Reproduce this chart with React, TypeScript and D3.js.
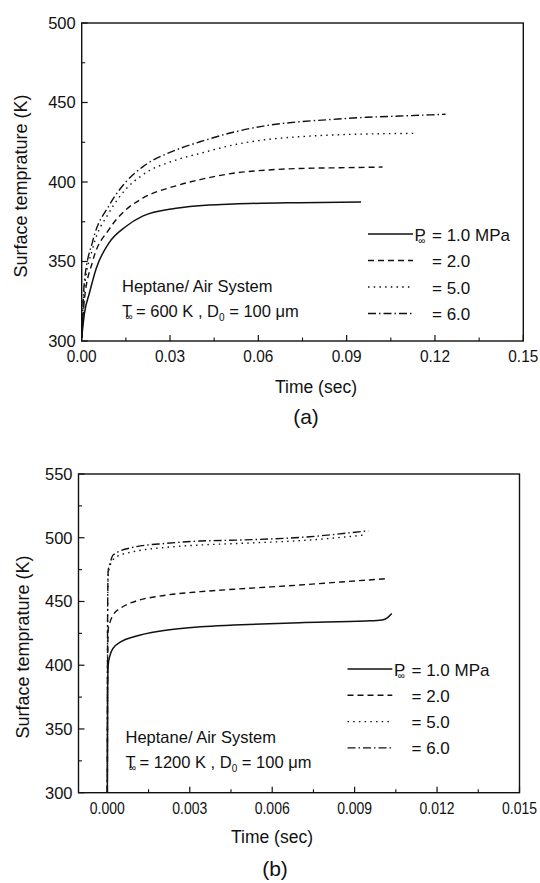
import React from "react";
import * as d3 from "d3";

// ---------- data: panel (a), T∞ = 600 K ----------
const a_t_p1 = [0, 0.0009, 0.0026, 0.0049, 0.0094, 0.015, 0.0207, 0.032, 0.0433, 0.0515, 0.0741, 0.0949];
const a_T_p1 = [302, 317, 330, 345.5, 362, 372, 378.5, 383.5, 385.6, 386.2, 387.0, 387.4];
const a_t_p2 = [0, 0.0009, 0.0037, 0.0094, 0.015, 0.0207, 0.032, 0.0402, 0.0515, 0.0628, 0.0741, 0.0855, 0.1022];
const a_T_p2 = [302, 325.8, 350, 370.5, 382.5, 389.8, 397.6, 401.5, 405.5, 407.5, 408.5, 408.9, 409.4];
const a_t_p5 = [0, 0.0009, 0.0037, 0.0094, 0.015, 0.0207, 0.032, 0.0402, 0.0515, 0.0628, 0.0741, 0.0855, 0.0968, 0.114];
const a_T_p5 = [302, 333, 358, 381, 395.5, 404.5, 413.8, 418, 423.3, 426.7, 428.5, 429.6, 430.2, 430.6];
const a_t_p6 = [0, 0.0009, 0.0037, 0.0094, 0.015, 0.0207, 0.032, 0.0402, 0.0515, 0.0628, 0.0741, 0.0855, 0.0968, 0.1081, 0.1236];
const a_T_p6 = [302, 337, 362.5, 385.5, 400, 409.5, 420.1, 425.3, 431.3, 435.5, 437.9, 439.4, 440.7, 441.5, 442.6];

// ---------- data: panel (b), T∞ = 1200 K ----------
const b_t_p1 = [0, 0.00001, 0.00003, 0.0001, 0.0002, 0.0005, 0.001, 0.002, 0.0034, 0.0046, 0.007, 0.0094, 0.01, 0.0102, 0.01035];
const b_T_p1 = [300, 380, 400, 408, 413, 418.5, 422.5, 427, 430.2, 431.5, 433.4, 434.7, 435.5, 437.3, 440.5];
const b_t_p2 = [0, 0.00001, 0.00003, 0.0001, 0.0002, 0.0005, 0.001, 0.002, 0.0034, 0.0046, 0.007, 0.0085, 0.0101];
const b_T_p2 = [300, 400, 428, 434, 439, 445, 450, 454.5, 457.7, 459.6, 462.9, 465.3, 467.8];
const b_t_p5 = [0, 0.00001, 0.00003, 0.0001, 0.00034, 0.00094, 0.00216, 0.00337, 0.00486, 0.00736, 0.0094];
const b_T_p5 = [300, 440, 470, 478.6, 485.1, 489, 492.5, 494.3, 495.6, 498.2, 502.2];
const b_t_p6 = [0, 0.00001, 0.00003, 0.0001, 0.00021, 0.00094, 0.00216, 0.00337, 0.00486, 0.00736, 0.0095];
const b_T_p6 = [300, 440, 474, 480, 486.5, 492.5, 495.6, 497.4, 498.2, 500.8, 505.5];

const legendValues = ["1.0", "2.0", "5.0", "6.0"];
const a_xTicks = [0, 0.03, 0.06, 0.09, 0.12, 0.15];
const a_yTicks = [300, 350, 400, 450, 500];
const b_xTicks = [0, 0.003, 0.006, 0.009, 0.012, 0.015];
const b_yTicks = [300, 350, 400, 450, 500, 550];

const dashes = [null, "6,4", "1.5,4.2", "8,3,1.5,3"];
const INK = "#111";
const FONT = "'Liberation Sans', Arial, sans-serif";

type PanelProps = {
  series: { t: number[]; T: number[] }[];
  xDomain: [number, number];
  xRange: [number, number];
  yDomain: [number, number];
  yRange: [number, number];
  xTicks: number[];
  yTicks: number[];
  xMinorStep: number;
  yMinorStep: number;
  xFmt: string;
  xLabelLen: number;
  xTitle: { x: number; y: number };
  panelLabel: { x: number; y: number; text: string };
  yTitle: { x: number; y: number };
  legend: { x0: number; x1: number; y0: number; dy: number; textX: number; eqX: number };
  note: { x: number; y: number; tinf: string };
};

function Panel(p: PanelProps) {
  const x = d3.scaleLinear().domain(p.xDomain).range(p.xRange);
  const y = d3.scaleLinear().domain(p.yDomain).range(p.yRange);
  const line = d3
    .line<[number, number]>()
    .x((d) => x(d[0]))
    .y((d) => y(d[1]))
    .curve(d3.curveMonotoneX);
  const [xl, xr] = p.xRange;
  const [yb, yt] = p.yRange;
  const xfmt = d3.format(p.xFmt);
  const xMinor = d3
    .range(p.xTicks[0] + p.xMinorStep, p.xTicks[p.xTicks.length - 1], p.xMinorStep * 2)
    .filter((v) => v > p.xDomain[0] && v < p.xDomain[1]);
  const yMinor = d3.range(p.yTicks[0] + p.yMinorStep, p.yTicks[p.yTicks.length - 1], p.yMinorStep * 2);
  const L = p.legend;
  return (
    <g fontFamily={FONT} fill={INK}>
      <rect x={xl} y={yt} width={xr - xl} height={yb - yt} fill="none" stroke={INK} strokeWidth={1.4} />
      {p.xTicks.map((v) => (
        <g key={"xt" + v}>
          <line x1={x(v)} x2={x(v)} y1={yb} y2={yb - 6} stroke={INK} strokeWidth={1.2} />
          <text
            x={x(v)}
            y={yb + 21}
            fontSize={16.5}
            textAnchor="middle"
            textLength={p.xLabelLen}
            lengthAdjust="spacingAndGlyphs"
          >
            {xfmt(v)}
          </text>
        </g>
      ))}
      {xMinor.map((v) => (
        <line key={"xm" + v} x1={x(v)} x2={x(v)} y1={yb} y2={yb - 3.5} stroke={INK} strokeWidth={1.1} />
      ))}
      {p.yTicks.map((v) => (
        <g key={"yt" + v}>
          <line x1={xl} x2={xl + 6} y1={y(v)} y2={y(v)} stroke={INK} strokeWidth={1.2} />
          <text x={xl - 6} y={y(v)} dy="0.36em" fontSize={16.5} textAnchor="end">
            {v}
          </text>
        </g>
      ))}
      {yMinor.map((v) => (
        <line key={"ym" + v} x1={xl} x2={xl + 3.5} y1={y(v)} y2={y(v)} stroke={INK} strokeWidth={1.1} />
      ))}
      {p.series.map((s, i) => (
        <path
          key={"s" + i}
          d={line(s.t.map((t, k) => [t, s.T[k]] as [number, number])) || ""}
          fill="none"
          stroke={INK}
          strokeWidth={i === 0 ? 1.5 : 1.4}
          strokeDasharray={dashes[i] || undefined}
        />
      ))}
      {legendValues.map((v, i) => {
        const ly = L.y0 + i * L.dy;
        return (
          <g key={"lg" + i}>
            <line x1={L.x0} x2={L.x1} y1={ly} y2={ly} stroke={INK} strokeWidth={1.4} strokeDasharray={dashes[i] || undefined} />
            {i === 0 ? (
              <text x={L.textX} y={ly + 6.5} fontSize={17}>
                P
                <tspan fontSize={10} dx={-7.5} dy={3}>∞</tspan>
                <tspan x={L.eqX} dy={-3}>{"= " + v + " MPa"}</tspan>
              </text>
            ) : (
              <text x={L.eqX} y={ly + 6.5} fontSize={17}>{"= " + v}</text>
            )}
          </g>
        );
      })}
      <text x={p.note.x} y={p.note.y} fontSize={16.5}>Heptane/ Air System</text>
      <text x={p.note.x} y={p.note.y + 25} fontSize={16.5}>
        T
        <tspan fontSize={10} dx={-6.5} dy={3}>∞</tspan>
        <tspan x={p.note.x + 14} dy={-3}>{"= " + p.note.tinf + " K , D"}</tspan>
        <tspan fontSize={10} dy={4}>0</tspan>
        <tspan dy={-4}>{" = 100 μm"}</tspan>
      </text>
      <text x={p.xTitle.x} y={p.xTitle.y} fontSize={17.5} textAnchor="middle">Time (sec)</text>
      <text x={p.panelLabel.x} y={p.panelLabel.y} fontSize={21} textAnchor="middle">{p.panelLabel.text}</text>
      <text
        transform={`translate(${p.yTitle.x},${p.yTitle.y}) rotate(-90)`}
        fontSize={18}
        textAnchor="middle"
      >
        Surface temprature (K)
      </text>
    </g>
  );
}

export default function App() {
  const seriesA = [
    { t: a_t_p1, T: a_T_p1 },
    { t: a_t_p2, T: a_T_p2 },
    { t: a_t_p5, T: a_T_p5 },
    { t: a_t_p6, T: a_T_p6 },
  ];
  const seriesB = [
    { t: b_t_p1, T: b_T_p1 },
    { t: b_t_p2, T: b_T_p2 },
    { t: b_t_p5, T: b_T_p5 },
    { t: b_t_p6, T: b_T_p6 },
  ];
  return (
    <svg
      width={540}
      height={883}
      style={{ position: "absolute", left: 0, top: 0, background: "#fff" }}
    >
      <rect width={540} height={883} fill="#fff" />
      <Panel
        series={seriesA}
        xDomain={[0, 0.15]}
        xRange={[81.7, 523.3]}
        yDomain={[300, 500]}
        yRange={[341, 23]}
        xTicks={a_xTicks}
        yTicks={a_yTicks}
        xMinorStep={0.015}
        yMinorStep={25}
        xFmt=".2f"
        xLabelLen={30}
        xTitle={{ x: 316, y: 393 }}
        panelLabel={{ x: 306, y: 424, text: "(a)" }}
        yTitle={{ x: 27, y: 186 }}
        legend={{ x0: 368, x1: 413, y0: 234, dy: 26.5, textX: 414.5, eqX: 432 }}
        note={{ x: 122, y: 292, tinf: "600" }}
      />
      <Panel
        series={seriesB}
        xDomain={[-0.00105, 0.015]}
        xRange={[78.5, 519.5]}
        yDomain={[300, 550]}
        yRange={[792.7, 474]}
        xTicks={b_xTicks}
        yTicks={b_yTicks}
        xMinorStep={0.0015}
        yMinorStep={25}
        xFmt=".3f"
        xLabelLen={35}
        xTitle={{ x: 272, y: 843 }}
        panelLabel={{ x: 275, y: 876, text: "(b)" }}
        yTitle={{ x: 29, y: 647 }}
        legend={{ x0: 347.5, x1: 392.3, y0: 669, dy: 26.3, textX: 394, eqX: 411.5 }}
        note={{ x: 125.5, y: 743, tinf: "1200" }}
      />
    </svg>
  );
}
